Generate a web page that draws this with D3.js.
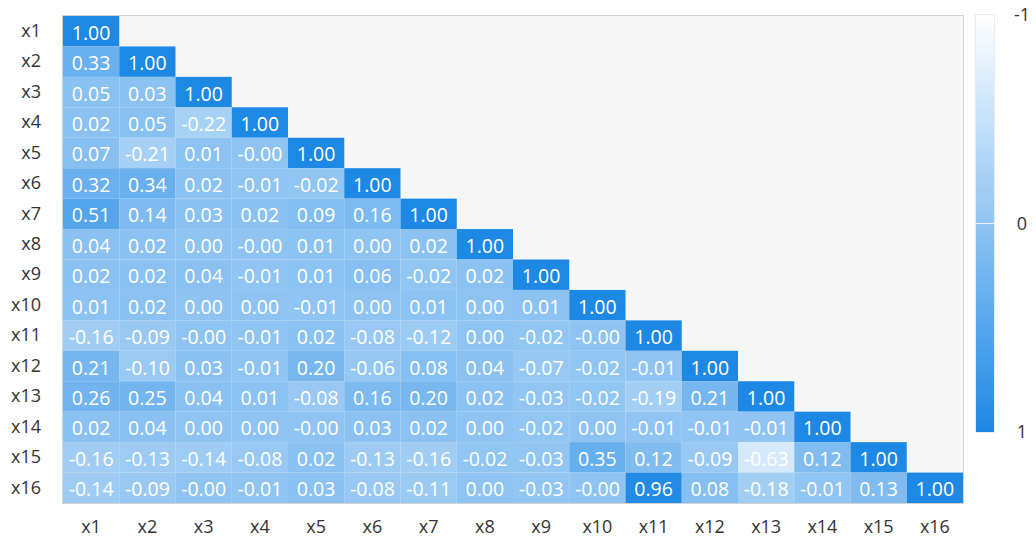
<!DOCTYPE html>
<html>
<head>
<meta charset="utf-8">
<script src="https://cdn.jsdelivr.net/npm/d3@7"></script>
<style>
  html, body { margin: 0; padding: 0; background: #ffffff; }
  svg { display: block; font-family: "Open Sans", "Noto Sans", sans-serif; }
</style>
</head>
<body>
<svg id="chart" width="1036" height="541"></svg>
<script>
// Variable names (rows and columns of the correlation matrix)
const variables = ["x1","x2","x3","x4","x5","x6","x7","x8","x9","x10","x11","x12","x13","x14","x15","x16"];

// Lower-triangle correlations, one array per row (row i holds columns 1..i)
const r1  = [1.00];
const r2  = [0.33, 1.00];
const r3  = [0.05, 0.03, 1.00];
const r4  = [0.02, 0.05, -0.22, 1.00];
const r5  = [0.07, -0.21, 0.01, -0.004, 1.00];
const r6  = [0.32, 0.34, 0.02, -0.01, -0.02, 1.00];
const r7  = [0.51, 0.14, 0.03, 0.02, 0.09, 0.16, 1.00];
const r8  = [0.04, 0.02, 0.00, -0.004, 0.01, 0.00, 0.02, 1.00];
const r9  = [0.02, 0.02, 0.04, -0.01, 0.01, 0.06, -0.02, 0.02, 1.00];
const r10 = [0.01, 0.02, 0.00, 0.00, -0.01, 0.00, 0.01, 0.00, 0.01, 1.00];
const r11 = [-0.16, -0.09, -0.004, -0.01, 0.02, -0.08, -0.12, 0.00, -0.02, -0.004, 1.00];
const r12 = [0.21, -0.10, 0.03, -0.01, 0.20, -0.06, 0.08, 0.04, -0.07, -0.02, -0.01, 1.00];
const r13 = [0.26, 0.25, 0.04, 0.01, -0.08, 0.16, 0.20, 0.02, -0.03, -0.02, -0.19, 0.21, 1.00];
const r14 = [0.02, 0.04, 0.00, 0.00, -0.004, 0.03, 0.02, 0.00, -0.02, 0.00, -0.01, -0.01, -0.01, 1.00];
const r15 = [-0.16, -0.13, -0.14, -0.08, 0.02, -0.13, -0.16, -0.02, -0.03, 0.35, 0.12, -0.09, -0.63, 0.12, 1.00];
const r16 = [-0.14, -0.09, -0.004, -0.01, 0.03, -0.08, -0.11, 0.00, -0.03, -0.004, 0.96, 0.08, -0.18, -0.01, 0.13, 1.00];

// Colour bar ticks
const legendTicks = [-1, 0, 1];

const rows = [r1, r2, r3, r4, r5, r6, r7, r8, r9, r10, r11, r12, r13, r14, r15, r16];
const cells = [];
rows.forEach((row, i) => {
  row.forEach((v, j) => cells.push({ row: variables[i], col: variables[j], value: v }));
});

const svg = d3.select("#chart");
const fontStack = "\"Open Sans\", \"Noto Sans\", sans-serif";

const plot = { left: 63, right: 963, top: 16, bottom: 503 };

const x = d3.scaleBand().domain(variables).range([plot.left, plot.right]).padding(0);
const y = d3.scaleBand().domain(variables).range([plot.top, plot.bottom]).padding(0);

const color = d3.scaleLinear()
  .domain([-1, 1])
  .range(["#ffffff", "#1e88e5"])
  .interpolate(d3.interpolateRgb);

// Plot background
svg.append("rect")
  .attr("x", plot.left - 0.5)
  .attr("y", plot.top - 0.5)
  .attr("width", plot.right - plot.left + 1)
  .attr("height", plot.bottom - plot.top + 1)
  .attr("fill", "#f6f6f6")
  .attr("stroke", "#d2d2d2")
  .attr("stroke-width", 1);

// Heatmap cells
svg.append("g")
  .selectAll("rect")
  .data(cells)
  .join("rect")
  .attr("x", d => x(d.col))
  .attr("y", d => y(d.row))
  .attr("width", x.bandwidth())
  .attr("height", y.bandwidth())
  .attr("fill", d => color(d.value));

// Cell value labels
svg.append("g")
  .selectAll("text")
  .data(cells)
  .join("text")
  .attr("x", d => x(d.col) + x.bandwidth() / 2)
  .attr("y", d => y(d.row) + y.bandwidth() / 2 + 1)
  .attr("text-anchor", "middle")
  .attr("dominant-baseline", "central")
  .attr("fill", "#ffffff")
  .attr("font-size", 19.5)
  .text(d => d.value.toFixed(2));

// Y axis labels
const yAxis = svg.append("g")
  .attr("transform", `translate(${plot.left - 10},0)`)
  .call(d3.axisLeft(y).tickSize(0).tickPadding(12));
yAxis.select(".domain").remove();
yAxis.selectAll("text")
  .attr("font-family", fontStack)
  .attr("font-size", 18)
  .attr("fill", "#333333");

// X axis labels
const xAxis = svg.append("g")
  .attr("transform", `translate(0,${plot.bottom + 17})`)
  .call(d3.axisBottom(x).tickSize(0).tickPadding(0));
xAxis.select(".domain").remove();
xAxis.selectAll("text")
  .attr("font-family", fontStack)
  .attr("font-size", 18)
  .attr("fill", "#333333")
  .attr("dy", "0.71em");

// Colour bar
const bar = { x: 976, width: 18, top: 15, bottom: 432 };
const legendScale = d3.scaleLinear().domain([-1, 1]).range([bar.top, bar.bottom]);

const defs = svg.append("defs");
const grad = defs.append("linearGradient")
  .attr("id", "corr-gradient")
  .attr("x1", 0).attr("y1", 0).attr("x2", 0).attr("y2", 1);
d3.range(-1, 1.0001, 0.25).forEach(v => {
  grad.append("stop")
    .attr("offset", (v + 1) / 2)
    .attr("stop-color", color(v));
});

svg.append("rect")
  .attr("x", bar.x)
  .attr("y", bar.top)
  .attr("width", bar.width)
  .attr("height", bar.bottom - bar.top)
  .attr("fill", "url(#corr-gradient)");

svg.append("rect")
  .attr("x", bar.x - 0.5)
  .attr("y", bar.top - 0.5)
  .attr("width", bar.width + 1)
  .attr("height", bar.bottom - bar.top + 1)
  .attr("fill", "none")
  .attr("stroke", "#ececec")
  .attr("stroke-width", 1);

// Marker line at zero on the colour bar
svg.append("line")
  .attr("x1", bar.x)
  .attr("x2", bar.x + bar.width)
  .attr("y1", legendScale(0))
  .attr("y2", legendScale(0))
  .attr("stroke", "#ffffff")
  .attr("stroke-opacity", 0.8)
  .attr("stroke-width", 1);

const legendAxis = svg.append("g")
  .attr("transform", `translate(${bar.x + bar.width},0)`)
  .call(d3.axisRight(legendScale).tickValues(legendTicks).tickSize(0).tickPadding(28)
    .tickFormat(d => String(d)));
legendAxis.select(".domain").remove();
legendAxis.selectAll("text")
  .attr("font-family", fontStack)
  .attr("font-size", 18)
  .attr("fill", "#333333")
  .attr("text-anchor", "middle");
</script>
</body>
</html>
